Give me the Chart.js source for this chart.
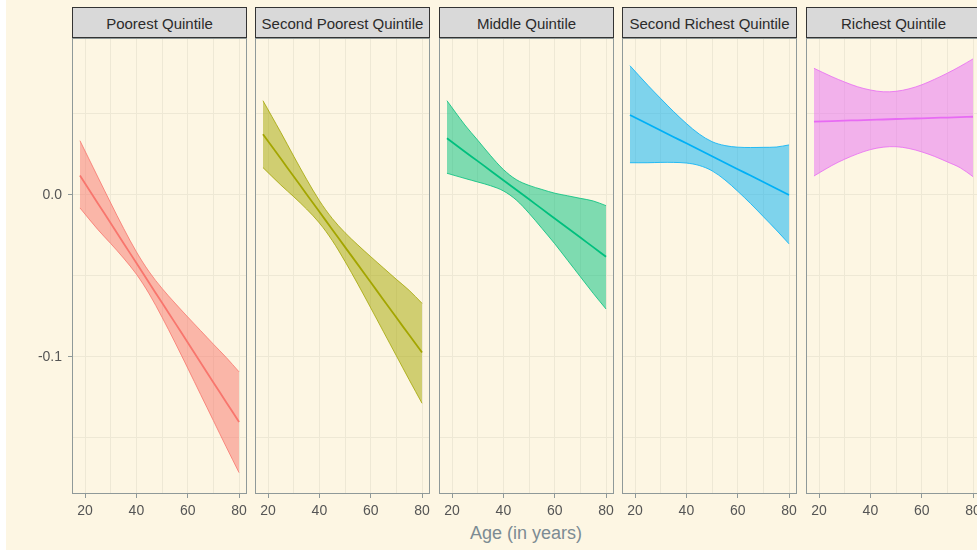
<!DOCTYPE html>
<html>
<head>
<meta charset="utf-8">
<script src="https://cdn.jsdelivr.net/npm/chart.js@4.4.1/dist/chart.umd.min.js"></script>
<style>
  html, body { margin: 0; padding: 0; background: #ffffff; overflow: hidden; width: 977px; height: 554px; }
  #bg { position: absolute; left: 6px; top: 0; width: 971px; height: 550px; background: #fdf6e3; }
  canvas { position: absolute; top: 0; }
  .strip { position: absolute; top: 7px; height: 31px; box-sizing: border-box; background: #d9d9d9;
           border: 1px solid #333333; font-family: "Liberation Sans", Arial, sans-serif; font-size: 15px;
           color: #2b2b2b; text-align: center; line-height: 31px; white-space: nowrap; overflow: hidden; }
  #xtitle { position: absolute; left: 376px; top: 522px; width: 300px; text-align: center;
            font-family: "Liberation Sans", Arial, sans-serif; font-size: 18px; line-height: 22px; color: #7c8b93; }
</style>
</head>
<body>
<div id="bg"></div>
<div id="xtitle">Age (in years)</div>
<script>
// ---------------- data ----------------
const panelTitles = ["Poorest Quintile", "Second Poorest Quintile", "Middle Quintile", "Second Richest Quintile", "Richest Quintile"];
const seriesColors = ["#F8766D", "#A3A500", "#00BF7D", "#00B0F6", "#E76BF3"];
const ages = [18, 25, 30, 35, 40, 45, 50, 55, 60, 65, 70, 75, 80];

const fitPoorest   = [0.0120, -0.0052, -0.0175, -0.0298, -0.0420, -0.0543, -0.0666, -0.0788, -0.0911, -0.1034, -0.1157, -0.1279, -0.1402];
const upperPoorest = [0.0335, 0.0110, -0.0050, -0.0206, -0.0351, -0.0475, -0.0577, -0.0667, -0.0753, -0.0837, -0.0921, -0.1003, -0.1092];
const lowerPoorest = [-0.0080, -0.0214, -0.0300, -0.0390, -0.0489, -0.0611, -0.0755, -0.0909, -0.1069, -0.1231, -0.1393, -0.1555, -0.1714];

const fitSecondPoorest   = [0.0375, 0.0223, 0.0114, 0.0005, -0.0104, -0.0213, -0.0322, -0.0430, -0.0539, -0.0648, -0.0757, -0.0865, -0.0973];
const upperSecondPoorest = [0.0582, 0.0385, 0.0239, 0.0097, -0.0035, -0.0145, -0.0233, -0.0309, -0.0381, -0.0451, -0.0521, -0.0589, -0.0669];
const lowerSecondPoorest = [0.0169, 0.0061, -0.0011, -0.0087, -0.0173, -0.0281, -0.0411, -0.0551, -0.0697, -0.0845, -0.0993, -0.1141, -0.1286];

const fitMiddle   = [0.0350, 0.0267, 0.0209, 0.0150, 0.0091, 0.0032, -0.0027, -0.0086, -0.0145, -0.0204, -0.0263, -0.0322, -0.0381];
const upperMiddle = [0.0582, 0.0432, 0.0338, 0.0243, 0.0157, 0.0095, 0.0059, 0.0034, 0.0011, -0.0005, -0.0021, -0.0037, -0.0066];
const lowerMiddle = [0.0134, 0.0102, 0.0080, 0.0057, 0.0025, -0.0031, -0.0113, -0.0206, -0.0301, -0.0403, -0.0505, -0.0607, -0.0704];

const fitSecondRichest   = [0.0494, 0.0438, 0.0398, 0.0358, 0.0319, 0.0279, 0.0239, 0.0199, 0.0159, 0.0120, 0.0080, 0.0040, 0.0000];
const upperSecondRichest = [0.0798, 0.0677, 0.0595, 0.0515, 0.0441, 0.0376, 0.0329, 0.0305, 0.0295, 0.0293, 0.0294, 0.0296, 0.0309];
const lowerSecondRichest = [0.0199, 0.0199, 0.0201, 0.0201, 0.0197, 0.0182, 0.0149, 0.0093, 0.0023, -0.0053, -0.0134, -0.0216, -0.0302];

const fitRichest   = [0.0453, 0.0456, 0.0459, 0.0461, 0.0464, 0.0466, 0.0469, 0.0471, 0.0473, 0.0476, 0.0478, 0.0481, 0.0483];
const upperRichest = [0.0782, 0.0730, 0.0697, 0.0668, 0.0648, 0.0637, 0.0640, 0.0655, 0.0680, 0.0714, 0.0752, 0.0794, 0.0840];
const lowerRichest = [0.0117, 0.0182, 0.0221, 0.0254, 0.0280, 0.0295, 0.0298, 0.0287, 0.0266, 0.0238, 0.0204, 0.0168, 0.0113];

const xTicks = [20, 30, 40, 50, 60, 70, 80];
const xTickLabels = ["20", "", "40", "", "60", "", "80"];
const yTicks = [-0.15, -0.1, -0.05, 0, 0.05];
const yTickLabels = ["", "-0.1", "", "0.0", ""];

const xRange = [14.9, 83.1];
const yRange = [-0.1846, 0.0969];

const panels = [
  { fit: fitPoorest, upper: upperPoorest, lower: lowerPoorest },
  { fit: fitSecondPoorest, upper: upperSecondPoorest, lower: lowerSecondPoorest },
  { fit: fitMiddle, upper: upperMiddle, lower: lowerMiddle },
  { fit: fitSecondRichest, upper: upperSecondRichest, lower: lowerSecondRichest },
  { fit: fitRichest, upper: upperRichest, lower: lowerRichest }
];

// ---------------- layout ----------------
const panelLefts = [72, 255, 439, 622, 806];
const panelW = 175;
const panelTop = 38;
const panelBottom = 494;
const H = 554;

function hexToRgba(hex, a) {
  const n = parseInt(hex.slice(1), 16);
  return `rgba(${(n >> 16) & 255},${(n >> 8) & 255},${n & 255},${a})`;
}

const borderPlugin = {
  id: 'panelBorder',
  afterDatasetsDraw(chart) {
    const a = chart.chartArea, ctx = chart.ctx;
    ctx.save();
    ctx.strokeStyle = '#8f9999';
    ctx.lineWidth = 1;
    ctx.strokeRect(Math.round(a.left) + 0.5, Math.round(a.top) + 0.5, Math.round(a.right - a.left) - 1, Math.round(a.bottom - a.top) - 1);
    ctx.restore();
  }
};

const tickFont = { family: '"Liberation Sans", Arial, sans-serif', size: 14 };

panels.forEach((p, i) => {
  const L = i === 0 ? 72 : 8;
  const R = 8;
  const cv = document.createElement('canvas');
  cv.width = L + panelW + R;
  cv.height = H;
  cv.style.left = (panelLefts[i] - L) + 'px';
  document.body.appendChild(cv);

  const strip = document.createElement('div');
  strip.className = 'strip';
  strip.style.left = panelLefts[i] + 'px';
  strip.style.width = panelW + 'px';
  strip.textContent = panelTitles[i];
  document.body.appendChild(strip);

  const col = seriesColors[i];
  const pts = arr => ages.map((a, k) => ({ x: a, y: arr[k] }));

  new Chart(cv, {
    type: 'line',
    data: {
      datasets: [
        { data: pts(p.upper), borderColor: hexToRgba(col, 0.8), borderWidth: 1, pointRadius: 0, fill: false, tension: 0.35 },
        { data: pts(p.lower), borderColor: hexToRgba(col, 0.8), borderWidth: 1, pointRadius: 0, fill: '-1',
          backgroundColor: hexToRgba(col, 0.5), tension: 0.35 },
        { data: pts(p.fit), borderColor: col, borderWidth: 1.8, pointRadius: 0, fill: false, tension: 0.35 }
      ]
    },
    options: {
      responsive: false,
      animation: false,
      devicePixelRatio: 1,
      events: [],
      layout: { padding: { top: panelTop, bottom: 0, left: 0, right: R } },
      plugins: { legend: { display: false }, tooltip: { enabled: false } },
      scales: {
        x: {
          type: 'linear',
          min: xRange[0], max: xRange[1],
          afterBuildTicks: s => { s.ticks = xTicks.map(v => ({ value: v })); },
          afterFit: s => { s.height = H - panelBottom; },
          border: { display: false },
          grid: {
            color: '#eee8d5', lineWidth: 1, drawTicks: true, tickLength: 4,
            tickColor: c => (xTickLabels[c.index] ? '#8f9999' : 'rgba(0,0,0,0)')
          },
          ticks: {
            autoSkip: false, maxRotation: 0, minRotation: 0, padding: 5,
            color: '#555555', font: tickFont,
            callback: (v, idx) => xTickLabels[idx]
          }
        },
        y: {
          type: 'linear',
          min: yRange[0], max: yRange[1],
          afterBuildTicks: s => { s.ticks = yTicks.map(v => ({ value: v })); },
          afterFit: s => { s.width = L; },
          border: { display: false },
          grid: {
            color: '#eee8d5', lineWidth: 1, drawTicks: i === 0, tickLength: 4,
            tickColor: c => (yTickLabels[c.index] ? '#8f9999' : 'rgba(0,0,0,0)')
          },
          ticks: {
            display: i === 0, autoSkip: false, padding: 6,
            color: '#555555', font: tickFont,
            callback: (v, idx) => yTickLabels[idx]
          }
        }
      }
    },
    plugins: [borderPlugin]
  });
});
</script>
</body>
</html>
